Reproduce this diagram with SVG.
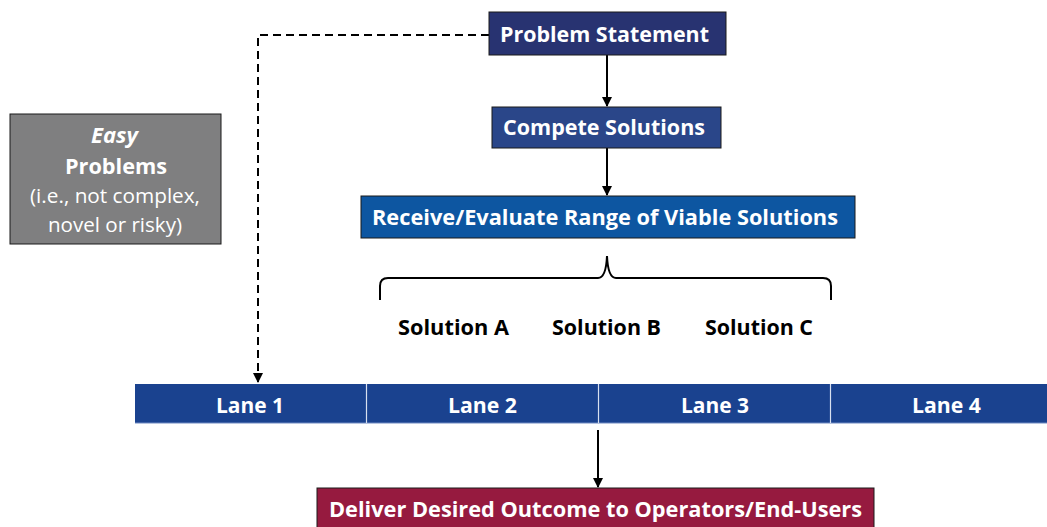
<svg xmlns="http://www.w3.org/2000/svg" width="1047" height="527" viewBox="0 0 1047 527">
<defs>
<style>
.t{font-family:"Open Sans","Liberation Sans",sans-serif;font-weight:bold;fill:#fff;text-anchor:middle}
.k{fill:#000}
.n{font-weight:normal}
.box{stroke:#1a1a1a;stroke-width:1}
.ln{stroke:#000;stroke-width:2;fill:none}
</style>
<marker id="ar" markerWidth="10" markerHeight="10" refX="9" refY="5" orient="auto" markerUnits="userSpaceOnUse" viewBox="0 0 10 10">
<path d="M0,0 L10,5 L0,10 Z" fill="#000"/>
</marker>
</defs>
<rect width="1047" height="527" fill="#fff"/>
<g id="connectors">
<path class="ln" d="M607,55 V106" marker-end="url(#ar)"/>
<path class="ln" d="M607,148 V195" marker-end="url(#ar)"/>
<path class="ln" d="M598,430 V487" marker-end="url(#ar)"/>
<path class="ln" d="M489,35 H258 V382" stroke-dasharray="8,5" marker-end="url(#ar)"/>
<path class="ln" d="M380,300 V286 Q380,278 388,278 H598 Q606,278 607,256 Q608,278 616,278 H823 Q831,278 831,286 V300"/>
</g>
<g id="problem-statement">
<rect class="box" x="489" y="12" width="237" height="43" fill="#283371"/>
<text class="t" x="604.5" y="41.5" font-size="21.5" textLength="209" lengthAdjust="spacingAndGlyphs">Problem Statement</text>
</g>
<g id="compete-solutions">
<rect class="box" x="492" y="107" width="229" height="41" fill="#2a4689"/>
<text class="t" x="604" y="134.5" font-size="21.5" textLength="202" lengthAdjust="spacingAndGlyphs">Compete Solutions</text>
</g>
<g id="receive-evaluate">
<rect class="box" x="361" y="196" width="494" height="42" fill="#0d56a1"/>
<text class="t" x="605" y="224.5" font-size="21.5" textLength="466" lengthAdjust="spacingAndGlyphs">Receive/Evaluate Range of Viable Solutions</text>
</g>
<g id="solutions">
<text class="t k" x="453.5" y="335" font-size="21.5" textLength="111" lengthAdjust="spacingAndGlyphs">Solution A</text>
<text class="t k" x="606.5" y="335" font-size="21.5" textLength="109" lengthAdjust="spacingAndGlyphs">Solution B</text>
<text class="t k" x="759" y="335" font-size="21.5" textLength="108" lengthAdjust="spacingAndGlyphs">Solution C</text>
</g>
<g id="easy-problems">
<rect class="box" x="10" y="114" width="211" height="130" fill="#7f7f80"/>
<text class="t" x="114.5" y="143" font-size="21.5" font-style="italic" textLength="47" lengthAdjust="spacingAndGlyphs">Easy</text>
<text class="t" x="116" y="174" font-size="21.5" textLength="102" lengthAdjust="spacingAndGlyphs">Problems</text>
<text class="t n" x="115" y="203" font-size="20.5" textLength="170" lengthAdjust="spacingAndGlyphs">(i.e., not complex,</text>
<text class="t n" x="115" y="232" font-size="20.5" textLength="134" lengthAdjust="spacingAndGlyphs">novel or risky)</text>
</g>
<g id="lanes">
<rect x="135" y="384" width="912" height="39" fill="#1a428f"/>
<line x1="135" y1="423" x2="1047" y2="423" stroke="#6f8ac2" stroke-width="1"/>
<line x1="366.5" y1="384" x2="366.5" y2="423" stroke="#d8e0ef" stroke-width="1.2"/>
<line x1="598.5" y1="384" x2="598.5" y2="423" stroke="#d8e0ef" stroke-width="1.2"/>
<line x1="830.5" y1="384" x2="830.5" y2="423" stroke="#d8e0ef" stroke-width="1.2"/>
<text class="t" x="250" y="412.5" font-size="21.5" textLength="68" lengthAdjust="spacingAndGlyphs">Lane 1</text>
<text class="t" x="482.5" y="412.5" font-size="21.5" textLength="69" lengthAdjust="spacingAndGlyphs">Lane 2</text>
<text class="t" x="715" y="412.5" font-size="21.5" textLength="68" lengthAdjust="spacingAndGlyphs">Lane 3</text>
<text class="t" x="946.5" y="412.5" font-size="21.5" textLength="69" lengthAdjust="spacingAndGlyphs">Lane 4</text>
</g>
<g id="deliver-outcome">
<rect class="box" x="317" y="488" width="557" height="45" fill="#961a3f"/>
<text class="t" x="595.5" y="516.5" font-size="21.5" textLength="533" lengthAdjust="spacingAndGlyphs">Deliver Desired Outcome to Operators/End-Users</text>
</g>
</svg>
